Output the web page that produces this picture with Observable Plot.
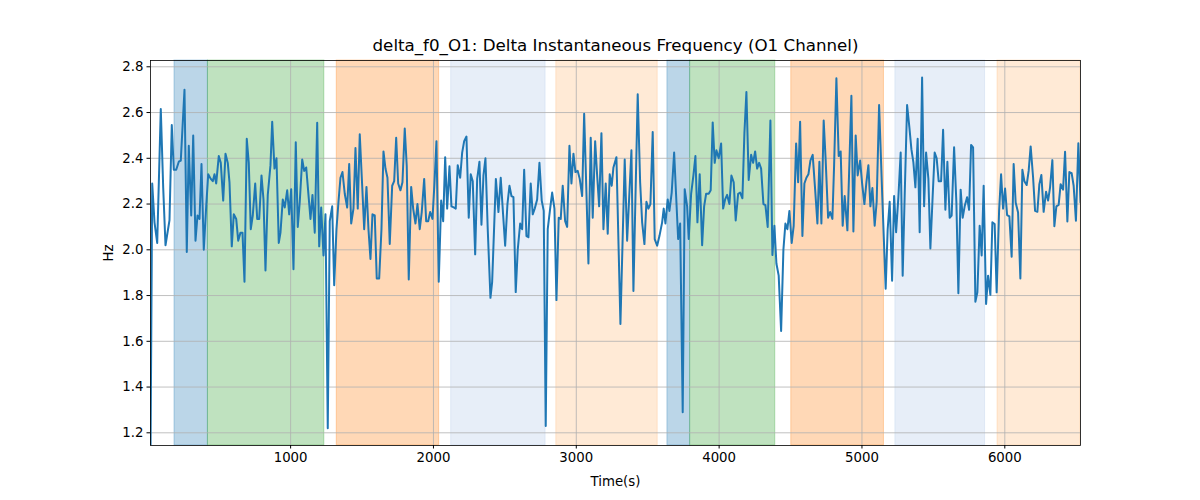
<!DOCTYPE html>
<html><head><meta charset="utf-8">
<script src="https://cdn.jsdelivr.net/npm/d3@7"></script>
<script src="https://cdn.jsdelivr.net/npm/@observablehq/plot@0.6"></script>
<style>body{margin:0;background:#fff;font-family:"DejaVu Sans",sans-serif}</style>
</head><body><div id="chart"></div>
<script>
const titleText = "delta_f0_O1: Delta Instantaneous Frequency (O1 Channel)";
const xLabel = "Time(s)";
const yLabel = "Hz";
const xTicks = [1000, 2000, 3000, 4000, 5000, 6000];
const yTicks = [1.2, 1.4, 1.6, 1.8, 2.0, 2.2, 2.4, 2.6, 2.8];
const xDomain = [19, 6530];
const yDomain = [1.1445, 2.8275];

const spanStart = [187, 421, 1323, 2124, 2860, 3638, 3797, 4505, 5234, 5949];
const spanEnd   = [421, 1236, 2040, 2785, 3570, 3797, 4393, 5154, 5862, 6530];
const spanKind  = ["blue", "green", "orange", "lightblue", "lightorange", "blue", "green", "orange", "lightblue", "lightorange"];
const kindColors = {blue: "#1f77b4", green: "#2ca02c", orange: "#ff7f0e", lightblue: "#aec7e8", lightorange: "#ffbb78"};

const samples = [
[19,1.10],[31,2.29],[47,2.12],[66,2.03],[91,2.615],[108,2.27],[124,2.02],[152,2.13],[168,2.545],[182,2.35],[199,2.35],[217,2.385],[231,2.39],[257,2.70],[273,1.99],[287,2.455],[304,2.15],[318,2.50],[334,2.04],[348,2.15],[362,2.135],[376,2.375],[392,2.0],[409,2.19],[423,2.33],[441,2.31],[455,2.30],[467,2.33],[479,2.29],[497,2.41],[511,2.38],[528,2.215],[544,2.42],[560,2.38],[572,2.295],[588,2.015],[602,2.155],[619,2.135],[633,2.04],[649,2.075],[663,2.075],[677,1.86],[693,2.485],[707,2.38],[721,2.09],[735,2.15],[752,2.29],[766,2.135],[780,2.135],[796,2.325],[810,2.22],[824,1.91],
[840,2.24],[859,2.37],[871,2.56],[887,2.355],[901,2.40],[917,2.03],[929,2.075],[945,2.22],[959,2.185],[976,2.26],[990,2.155],[1004,2.265],[1020,1.915],[1036,2.47],[1050,2.10],[1064,2.21],[1081,2.395],[1095,2.345],[1109,2.36],[1125,2.24],[1139,2.135],[1153,2.24],[1169,2.075],[1186,2.555],[1200,2.015],[1214,2.185],[1230,1.975],[1244,2.155],[1260,1.22],[1274,2.125],[1291,2.19],[1305,1.845],[1321,2.09],[1335,2.21],[1349,2.315],[1363,2.34],[1379,2.245],[1396,2.185],[1410,2.375],[1424,2.115],[1440,2.18],[1454,2.445],[1470,2.18],[1484,2.505],[1501,2.28],[1515,2.09],[1531,2.275],[1545,2.09],[1559,1.96],[1573,2.155],[1589,2.15],[1603,1.875],[1620,1.875],
[1636,2.09],[1650,2.43],[1664,2.355],[1678,2.315],[1694,2.025],[1711,2.28],[1725,2.30],[1739,2.49],[1753,2.29],[1769,2.26],[1783,2.295],[1799,2.53],[1813,2.365],[1827,1.87],[1844,2.275],[1858,2.18],[1874,2.115],[1888,2.20],[1904,2.09],[1918,2.165],[1935,2.31],[1949,2.125],[1963,2.125],[1977,2.165],[1993,2.135],[2007,2.29],[2021,2.475],[2037,1.86],[2054,2.215],[2068,2.125],[2082,2.405],[2096,2.18],[2112,2.365],[2126,2.19],[2142,2.185],[2156,2.18],[2170,2.37],[2187,2.315],[2201,2.425],[2215,2.475],[2231,2.495],[2247,2.14],[2261,2.33],[2275,2.30],[2292,1.98],[2306,2.31],[2322,2.385],[2336,2.11],[2350,2.325],[2364,2.40],[2380,2.09],[2399,1.79],[2411,1.86],[2437,2.31],
[2455,2.165],[2471,2.315],[2488,2.15],[2502,2.018],[2518,2.20],[2532,2.28],[2546,2.235],[2560,2.23],[2576,1.815],[2590,2.00],[2607,2.115],[2621,2.09],[2635,2.35],[2651,2.06],[2665,2.055],[2681,2.29],[2695,2.155],[2709,2.18],[2726,2.22],[2742,2.38],[2758,2.215],[2772,2.17],[2786,1.23],[2800,2.09],[2817,2.18],[2831,2.25],[2847,2.18],[2861,1.78],[2877,2.14],[2891,2.135],[2905,2.28],[2922,2.125],[2936,2.10],[2952,2.455],[2966,2.29],[2980,2.42],[2994,2.34],[3010,2.345],[3024,2.31],[3041,2.235],[3055,2.595],[3071,2.25],[3085,1.94],[3101,2.49],[3115,2.14],[3132,2.475],[3146,2.325],[3160,2.19],[3176,2.51],[3190,2.09],[3206,2.29],[3220,2.07],[3234,2.33],
[3248,2.28],[3260,2.36],[3281,2.405],[3309,1.676],[3339,2.395],[3356,2.04],[3386,2.435],[3400,1.82],[3430,2.68],[3447,2.295],[3461,2.12],[3477,2.025],[3491,2.21],[3505,2.18],[3519,2.20],[3535,2.515],[3549,2.047],[3566,2.018],[3582,2.06],[3601,2.12],[3612,2.18],[3624,2.115],[3640,2.22],[3652,2.17],[3668,2.25],[3685,2.425],[3699,2.235],[3713,2.047],[3727,2.115],[3745,1.29],[3759,2.265],[3776,2.19],[3787,2.047],[3804,2.245],[3820,2.325],[3834,2.41],[3848,2.12],[3864,2.33],[3881,2.02],[3895,2.19],[3909,2.245],[3927,2.245],[3941,2.26],[3955,2.557],[3969,2.38],[3981,2.435],[3997,2.40],[4014,2.465],[4028,2.18],
[4042,2.22],[4056,2.24],[4072,2.20],[4086,2.325],[4102,2.295],[4116,2.128],[4133,2.245],[4147,2.25],[4163,2.225],[4177,2.51],[4191,2.69],[4207,2.305],[4224,2.415],[4238,2.38],[4252,2.43],[4266,2.355],[4280,2.38],[4294,2.355],[4310,2.20],[4324,2.195],[4340,2.10],[4359,2.565],[4373,1.977],[4387,2.105],[4401,1.94],[4417,1.887],[4434,1.645],[4450,2.0],[4464,2.115],[4478,2.09],[4492,2.17],[4508,2.03],[4522,2.105],[4539,2.465],[4553,2.295],[4567,2.56],[4583,2.06],[4597,2.29],[4611,2.315],[4625,2.33],[4639,2.39],[4655,2.415],[4672,2.265],[4688,2.115],[4702,2.385],[4716,2.115],[4732,2.565],[4746,2.39],[4763,2.14],[4777,2.165],[4793,2.135],[4805,2.37],[4821,2.75],[4837,2.41],[4851,2.43],
[4865,2.105],[4879,2.235],[4898,2.085],[4926,2.673],[4940,2.08],[4956,2.50],[4970,2.325],[4987,2.39],[5001,2.29],[5017,2.20],[5031,2.295],[5045,2.37],[5059,2.19],[5073,2.27],[5089,2.105],[5103,2.21],[5120,2.633],[5143,2.22],[5166,1.83],[5180,2.09],[5194,2.21],[5211,1.865],[5225,2.235],[5239,2.077],[5255,2.23],[5271,2.425],[5285,1.887],[5299,2.235],[5316,2.633],[5332,2.535],[5346,2.44],[5360,2.382],[5374,2.273],[5390,2.485],[5404,2.077],[5421,2.753],[5435,2.19],[5449,2.425],[5465,2.31],[5479,2.006],[5495,2.235],[5509,2.425],[5523,2.40],[5537,2.30],[5554,2.30],[5568,2.525],[5584,2.175],[5598,2.385],[5614,2.14],[5628,2.15],[5645,2.448],
[5661,2.207],[5675,1.81],[5691,2.263],[5705,2.14],[5719,2.19],[5736,2.23],[5750,2.175],[5764,2.458],[5778,2.448],[5794,1.773],[5808,1.814],[5824,2.105],[5838,1.975],[5852,2.28],[5869,1.763],[5883,1.887],[5899,1.803],[5913,2.12],[5929,2.113],[5943,1.814],[5960,2.17],[5974,2.33],[5988,2.18],[6002,2.268],[6016,2.152],[6032,2.146],[6048,1.97],[6062,2.375],[6076,2.207],[6093,2.163],[6109,1.875],[6123,2.35],[6137,2.30],[6153,2.283],[6167,2.345],[6181,2.452],[6198,2.317],[6212,2.17],[6228,2.166],[6242,2.287],[6256,2.327],[6272,2.166],[6289,2.254],[6303,2.215],[6317,2.273],[6333,2.392],[6347,2.103],[6361,2.19],[6377,2.196],[6391,2.287],[6408,2.263],[6422,2.429],[6438,2.124],[6452,2.34],[6468,2.335],[6482,2.28],[6498,2.127],[6515,2.466],[6530,2.207]
];

const data = samples.map(([t, v]) => ({t, v}));
const spans = spanStart.map((s, i) => ({x1: s, x2: spanEnd[i], color: kindColors[spanKind[i]]}));

const chart = Plot.plot({
  width: 1200, height: 500,
  marginLeft: 150, marginRight: 120, marginTop: 60, marginBottom: 55,
  style: {fontFamily: "DejaVu Sans, sans-serif", fontSize: "13.3px", color: "#000", background: "#fff", overflow: "visible"},
  x: {domain: xDomain},
  y: {domain: yDomain},
  color: {type: "identity"},
  marks: [
    Plot.rect(spans, {x1: "x1", x2: "x2", fill: "color", fillOpacity: 0.3, stroke: "color", strokeOpacity: 0.3, strokeWidth: 1}),
    Plot.gridX(xTicks, {stroke: "#b0b0b0", strokeOpacity: 1, strokeWidth: 0.8}),
    Plot.gridY(yTicks, {stroke: "#b0b0b0", strokeOpacity: 1, strokeWidth: 0.8}),
    Plot.line(data, {x: "t", y: "v", stroke: "#1f77b4", strokeWidth: 2, clip: true}),
    Plot.frame({stroke: "#000", strokeWidth: 0.8}),
    Plot.axisX(xTicks, {tickSize: 3.5, tickPadding: 3.5, fontSize: 13.3, tickFormat: d => String(d), label: xLabel, labelAnchor: "center", labelArrow: "none", labelOffset: 40}),
    Plot.axisY(yTicks, {tickSize: 3.5, tickPadding: 3.5, fontSize: 13.3, tickFormat: d => d.toFixed(1), label: yLabel, labelAnchor: "center", labelArrow: "none", labelOffset: 47}),
    Plot.text([titleText], {frameAnchor: "top", dy: -21, fontSize: 16.7, fill: "#000"})
  ]
});
document.getElementById("chart").appendChild(chart);
</script>
</body></html>
